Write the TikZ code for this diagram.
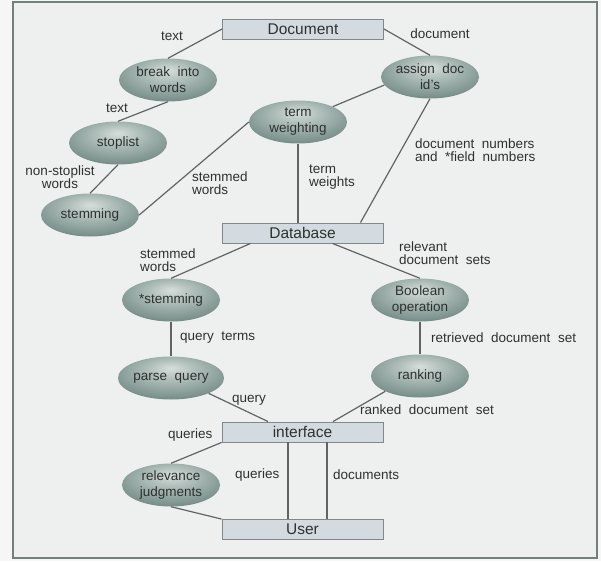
\documentclass[tikz,border=0pt]{standalone}
\usepackage{fontspec}
\setmainfont{Liberation Sans}[WordSpace=2]
\usetikzlibrary{positioning,shapes.geometric}

\definecolor{outside}{RGB}{246,246,246}
\definecolor{paper}{RGB}{238,240,240}
\definecolor{frameclr}{RGB}{112,128,125}
\definecolor{boxfill}{RGB}{212,219,224}
\definecolor{boxline}{RGB}{128,136,136}
\definecolor{ovlight}{RGB}{214,222,219}
\definecolor{ovsoft}{RGB}{180,194,190}
\definecolor{ovmid}{RGB}{126,148,142}
\definecolor{ovdark}{RGB}{64,90,85}
\definecolor{ovdeep}{RGB}{46,70,66}
\definecolor{inkclr}{RGB}{45,49,48}
\definecolor{wireclr}{RGB}{95,100,100}

\pgfdeclareradialshading{ovshade}{\pgfpoint{0bp}{12bp}}{color(0bp)=(ovlight); color(10bp)=(ovsoft); color(28bp)=(ovmid); color(44bp)=(ovdark); color(60bp)=(ovdeep)}

\begin{document}
\begin{tikzpicture}[
  x=1pt, y=-1pt,
  rect/.style={draw=boxline, fill=boxfill, line width=0.9pt, minimum width=161pt,
               minimum height=20pt, inner sep=0pt, font=\fontsize{15.5}{16}\selectfont, text=inkclr},
  oval/.style={ellipse, shading=ovshade, minimum width=98pt, minimum height=43pt,
               inner sep=0pt, align=center, font=\fontsize{13.5}{16}\selectfont, text=inkclr},
  wire/.style={draw=wireclr, line width=1.2pt},
  lab/.style={font=\fontsize{13.5}{13}\selectfont, text=inkclr, inner sep=0pt, align=left}
]
\useasboundingbox (0,0) rectangle (601,561);
\fill[outside] (0,0) rectangle (601,561);
\draw[frameclr, line width=2pt, fill=paper] (12.5,2.5) rectangle (596.5,557.5);

\node[rect] (doc) at (303,29) {Document};
\node[rect] (db) at (302.5,233) {Database};
\node[rect] (ifc) at (302.5,432) {interface};
\node[rect] (usr) at (302.5,529.5) {User};

\node[oval] (brk) at (168,80) {break into\\words};
\node[oval] (asg) at (430,77) {assign doc\\id's};
\node[oval] (tw) at (298,122) {term\\weighting};
\node[oval] (stp) at (118,143) {stoplist};
\node[oval] (stm) at (90,215) {stemming};
\node[oval] (stm2) at (171,300) {*stemming};
\node[oval] (pq) at (171,378) {parse query};
\node[oval] (bool) at (420,300) {Boolean\\operation};
\node[oval] (rank) at (420,376) {ranking};
\node[oval] (rel) at (171,485) {relevance\\judgments};

\draw[wire] (doc.west) -- (brk.north);
\draw[wire] (doc.east) -- (asg.north);
\draw[wire] (brk.south) -- (stp.north);
\draw[wire] (stp.south) -- (stm.north);
\draw[wire] (stm.east) -- (tw.west);
\draw[wire] (asg.190) -- (tw.north east);
\draw[wire] (tw.south) -- (tw.south |- db.north);
\draw[wire] (asg.south) -- ([xshift=58pt]db.north);
\draw[wire] ([xshift=-52pt]db.south) -- (stm2.north);
\draw[wire] ([xshift=30pt]db.south) -- (bool.north);
\draw[wire] (stm2.south) -- (pq.north);
\draw[wire] (bool.south) -- (rank.north);
\draw[wire] (pq.south east) -- ([xshift=-34.5pt]ifc.north);
\draw[wire] (rank.south west) -- ([xshift=30.5pt]ifc.north);
\draw[wire] (ifc.south west) -- (rel.north);
\draw[wire] (rel.south) -- (usr.north west);
\draw[wire] ([xshift=-14.5pt]ifc.south) -- ([xshift=-14.5pt]usr.north);
\draw[wire] ([xshift=24.5pt]ifc.south) -- ([xshift=24.5pt]usr.north);

\node[lab] (l1) at (172,36) {text};
\node[lab] (l2) at (440,34) {document};
\node[lab] (l3) at (117,108) {text};
\node[lab, align=center] (l4) at (60,177) {non-stoplist\\words};
\node[lab, anchor=west] (l5) at (192,183) {stemmed\\words};
\node[lab, anchor=west] (l6) at (309,177) {term\\weights};
\node[lab, anchor=west] (l7) at (415,150) {document numbers\\and *field numbers};
\node[lab, anchor=west] (l8) at (140,260) {stemmed\\words};
\node[lab, anchor=west] (l9) at (399,253) {relevant\\document sets};
\node[lab, anchor=west] (l10) at (180,338) {query terms};
\node[lab, anchor=west] (l11) at (431,338) {retrieved document set};
\node[lab, anchor=west] (l12) at (232,400) {query};
\node[lab, anchor=west] (l13) at (360,410) {ranked document set};
\node[lab, anchor=west] (l14) at (168,435) {queries};
\node[lab, anchor=west] (l15) at (235,475) {queries};
\node[lab, anchor=west] (l16) at (333,475) {documents};
\end{tikzpicture}
\end{document}
